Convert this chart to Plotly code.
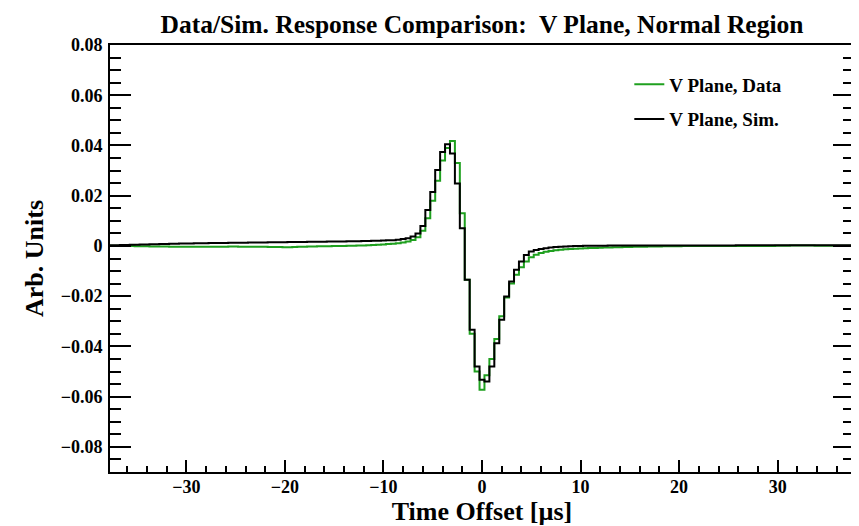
import numpy as np
import plotly.graph_objects as go

# Histogram binning: 151 bins of 0.5 us from -37.75 to 37.75
BIN_LOW, BIN_HIGH, BIN_WIDTH = -37.75, 37.75, 0.5
edges = np.arange(BIN_LOW, BIN_HIGH + BIN_WIDTH / 2, BIN_WIDTH)

# Sim (black), bins from t=-37.5 to 37.5
sim_left = [0.0003, 0.0003, 0.0004, 0.0004, 0.0005, 0.0005, 0.0006, 0.0006, 0.0007, 0.0007,
            0.0008, 0.0008, 0.0009, 0.0009, 0.0010, 0.0010, 0.0010, 0.0011, 0.0011, 0.0011,
            0.0012, 0.0012, 0.0012, 0.0012, 0.0013, 0.0013, 0.0013, 0.0013, 0.0014, 0.0014,
            0.0014, 0.0014, 0.0015, 0.0015, 0.0015, 0.0015, 0.0016, 0.0016, 0.0016, 0.0016,
            0.0017, 0.0017, 0.0017, 0.0017, 0.0018, 0.0018, 0.0018, 0.0018, 0.0019, 0.0019,
            0.0019, 0.0020, 0.0020, 0.0021, 0.0021, 0.0022, 0.0023]
sim_peak = [0.0023, 0.0025, 0.0028, 0.0031, 0.0038, 0.0050, 0.0079, 0.0143, 0.0215, 0.0302,
            0.0374, 0.0405, 0.0368, 0.0249, 0.0070, -0.0135, -0.0334, -0.0480, -0.0533, -0.0540,
            -0.0480, -0.0387, -0.0294, -0.0201, -0.0142, -0.0095, -0.0062, -0.0036, -0.0022, -0.0016,
            -0.0012, -0.0009, -0.0006, -0.0004, -0.0003, -0.0002, -0.0001, 0.0000]
sim_right = [0.0000, 0.0001, 0.0001, 0.0001, 0.0001, 0.0001, 0.0002, 0.0002, 0.0002, 0.0002,
             0.0002, 0.0002, 0.0002, 0.0002, 0.0002, 0.0002, 0.0002, 0.0002, 0.0002, 0.0002,
             0.0002, 0.0002, 0.0002, 0.0002, 0.0002, 0.0002, 0.0002, 0.0002, 0.0002, 0.0002,
             0.0002, 0.0002, 0.0003, 0.0003, 0.0003, 0.0003, 0.0003, 0.0003, 0.0003, 0.0003,
             0.0003, 0.0003, 0.0003, 0.0003, 0.0003, 0.0003, 0.0003, 0.0003, 0.0003, 0.0003,
             0.0003, 0.0003, 0.0003, 0.0003, 0.0003, 0.0003]

# Data (green)
data_left = [0.0001, 0.0001, 0.0000, 0.0000, 0.0000, -0.0001, -0.0001, -0.0001, -0.0002, -0.0002,
             -0.0002, -0.0002, -0.0003, -0.0003, -0.0003, -0.0003, -0.0003, -0.0003, -0.0003, -0.0003,
             -0.0003, -0.0003, -0.0003, -0.0003, -0.0002, -0.0002, -0.0003, -0.0003, -0.0003, -0.0003,
             -0.0003, -0.0003, -0.0004, -0.0004, -0.0004, -0.0005, -0.0005, -0.0004, -0.0003, -0.0003,
             -0.0002, -0.0002, -0.0001, -0.0001, -0.0001, 0.0000, 0.0000, 0.0000, 0.0001, 0.0001,
             0.0002, 0.0002, 0.0003, 0.0004, 0.0005, 0.0006, 0.0008]
data_peak = [0.0009, 0.0011, 0.0014, 0.0018, 0.0024, 0.0035, 0.0060, 0.0110, 0.0180, 0.0260,
             0.0340, 0.0390, 0.0418, 0.0330, 0.0130, -0.0135, -0.0350, -0.0500, -0.0573, -0.0515,
             -0.0450, -0.0370, -0.0280, -0.0205, -0.0150, -0.0115, -0.0085, -0.0062, -0.0045, -0.0035,
             -0.0028, -0.0023, -0.0020, -0.0017, -0.0015, -0.0013, -0.0012, -0.0011]
data_right = [-0.0010, -0.0009, -0.0008, -0.0008, -0.0007, -0.0006, -0.0006, -0.0005, -0.0005, -0.0004,
              -0.0004, -0.0003, -0.0003, -0.0003, -0.0002, -0.0002, -0.0002, -0.0001, -0.0001, -0.0001,
              -0.0001, 0.0000, 0.0000, 0.0000, 0.0000, 0.0000, 0.0000, 0.0000, 0.0000, 0.0000,
              0.0000, 0.0000, 0.0000, 0.0000, 0.0000, 0.0000, 0.0000, 0.0000, 0.0000, 0.0000,
              0.0001, 0.0001, 0.0001, 0.0002, 0.0002, 0.0002, 0.0002, 0.0002, 0.0001, 0.0001,
              0.0001, 0.0001, 0.0001, 0.0001, 0.0001, 0.0001]

sim_vals = sim_left + sim_peak + sim_right
data_vals = data_left + data_peak + data_right

series_names = ["V Plane, Data", "V Plane, Sim."]
series_colors = ["#1fa01f", "#000000"]

FONT = "Liberation Serif"

# The page body has an 8px margin, so the figure is 8px smaller than the window
W, H = 851, 518

fig = go.Figure()
for name, vals, col in zip(series_names, [data_vals, sim_vals], series_colors):
    fig.add_trace(go.Scatter(
        x=list(edges), y=vals + [vals[-1]], mode="lines", name=name,
        line=dict(color=col, width=2, shape="hv"), legendgroup=name,
    ))

fig.update_layout(
    width=W, height=H,
    margin=dict(l=102, r=5, t=37, b=54, autoexpand=False),
    plot_bgcolor="white", paper_bgcolor="white",
    font=dict(family=FONT, color="black", weight="bold"),
    title=dict(text="Data/Sim. Response Comparison:&nbsp; V Plane, Normal Region",
               x=0.5, xanchor="center", xref="paper",
               y=1 - 16 / H, yanchor="middle", yref="container",
               font=dict(family=FONT, size=25.5, weight="bold", color="black")),
    legend=dict(x=0.698, y=0.952, xanchor="left", yanchor="top",
                font=dict(family=FONT, size=19, weight="bold"),
                bgcolor="rgba(0,0,0,0)", tracegroupgap=7, traceorder="grouped"),
    showlegend=True,
)

fig.update_xaxes(
    range=[BIN_LOW, BIN_HIGH], showgrid=False, zeroline=False,
    showline=True, linecolor="black", linewidth=2, mirror=True,
    ticks="inside", ticklen=12, tickwidth=1.5, tickcolor="black",
    tick0=0, dtick=10,
    minor=dict(ticks="inside", ticklen=6, dtick=2, tick0=0, tickcolor="black", tickwidth=1.5, showgrid=False),
    tickfont=dict(family=FONT, size=18, weight="bold"),
    ticklabelstandoff=-3,
    title=dict(text="Time Offset [µs]", font=dict(family=FONT, size=26, weight="bold"), standoff=5),
)
fig.update_yaxes(
    range=[-0.09, 0.08], showgrid=False, zeroline=False,
    showline=True, linecolor="black", linewidth=2, mirror="ticks",
    ticks="inside", ticklen=21, tickwidth=1.5, tickcolor="black",
    tick0=0, dtick=0.02,
    minor=dict(ticks="inside", ticklen=11, dtick=0.005, tick0=0, tickcolor="black", tickwidth=1.5, showgrid=False),
    tickfont=dict(family=FONT, size=18, weight="bold"),
    ticklabelstandoff=2,
    title=dict(text="Arb. Units", font=dict(family=FONT, size=26, weight="bold"), standoff=10),
)

fig.write_html("out.html")
